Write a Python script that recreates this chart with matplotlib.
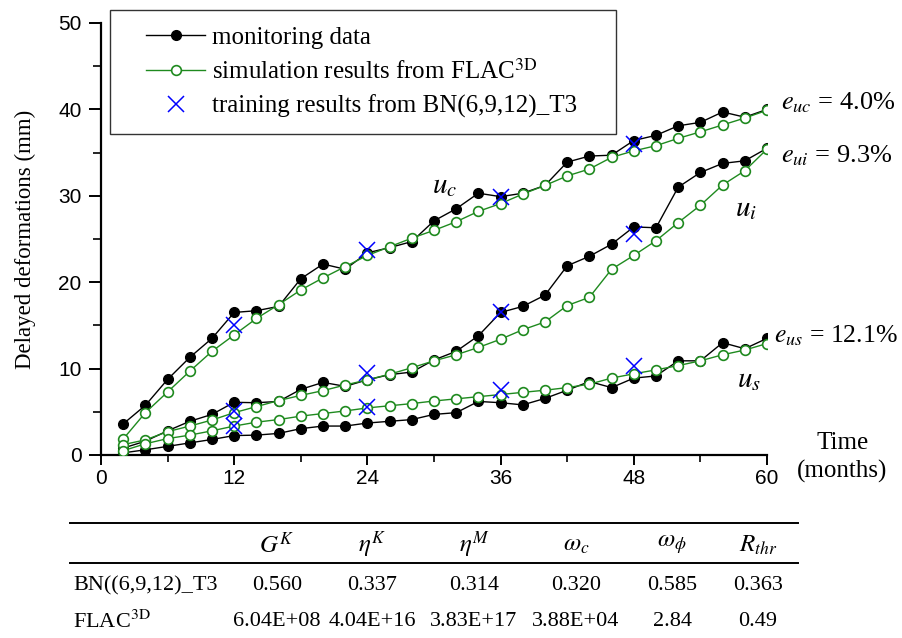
import numpy as np
import matplotlib
matplotlib.use("Agg")
import matplotlib.pyplot as plt
from matplotlib.lines import Line2D
from matplotlib.legend_handler import HandlerLine2D
from matplotlib.ticker import MultipleLocator

plt.rcParams["font.family"] = ["Liberation Serif", "DejaVu Serif"]
plt.rcParams["mathtext.fontset"] = "stix"

# months 2..60
months = [2, 4, 6, 8, 10, 12, 14, 16, 18, 20, 22, 24, 26, 28, 30,
          32, 34, 36, 38, 40, 42, 44, 46, 48, 50, 52, 54, 56, 58, 60]

uc_mon = [3.6, 5.75, 8.75, 11.3, 13.5, 16.5, 16.7, 17.2, 20.4, 22.1, 21.5, 23.4, 24.0, 24.7, 27.1,
          28.5, 30.3, 29.9, 30.3, 31.2, 33.9, 34.6, 34.7, 36.4, 37.0, 38.1, 38.5, 39.7, 39.1, 40.0]
uc_sim = [1.85, 4.9, 7.3, 9.7, 12.0, 13.9, 15.8, 17.4, 19.1, 20.5, 21.8, 23.1, 24.1, 25.1, 26.0,
          27.0, 28.2, 29.1, 30.2, 31.2, 32.3, 33.1, 34.45, 35.2, 35.8, 36.65, 37.4, 38.2, 39.0, 39.9]

ui_mon = [0.8, 1.6, 2.8, 3.9, 4.7, 6.1, 6.05, 6.2, 7.6, 8.4, 7.95, 8.7, 9.3, 9.6, 11.0,
          12.0, 13.8, 16.5, 17.2, 18.5, 21.9, 23.0, 24.4, 26.4, 26.3, 31.0, 32.7, 33.75, 34.05, 35.5]
ui_sim = [1.2, 1.75, 2.7, 3.35, 4.05, 4.9, 5.6, 6.3, 6.9, 7.45, 8.1, 8.7, 9.35, 10.1, 10.9,
          11.6, 12.45, 13.4, 14.5, 15.4, 17.3, 18.25, 21.5, 23.1, 24.8, 26.9, 28.9, 31.25, 32.9, 35.4]

us_mon = [0.25, 0.6, 1.0, 1.4, 1.8, 2.25, 2.3, 2.5, 3.05, 3.35, 3.35, 3.7, 3.9, 4.1, 4.7,
          4.9, 6.2, 6.05, 5.8, 6.55, 7.5, 8.5, 7.8, 8.9, 9.15, 10.9, 10.9, 13.0, 12.3, 13.5]
us_sim = [0.5, 1.3, 1.9, 2.3, 2.8, 3.35, 3.8, 4.1, 4.5, 4.8, 5.1, 5.45, 5.7, 5.95, 6.25,
          6.5, 6.75, 7.0, 7.25, 7.5, 7.8, 8.2, 8.9, 9.4, 9.85, 10.35, 10.9, 11.6, 12.15, 12.9]

train_months = [12, 24, 36, 48]
uc_train = [15.0, 23.7, 29.9, 36.0]
ui_train = [5.1, 9.5, 16.5, 25.6]
us_train = [3.3, 5.5, 7.5, 10.35]

err_labels = [r"$e_{uc}$ = 4.0%", r"$e_{ui}$ = 9.3%", r"$e_{us}$ = 12.1%"]

table_head = [r"$G^{K}$", r"$\eta^{K}$", r"$\eta^{M}$", r"$\omega_{c}$", r"$\omega_{\phi}$", r"$R_{thr}$"]
bn_row = ["0.560", "0.337", "0.314", "0.320", "0.585", "0.363"]
flac_row = ["6.04E+08", "4.04E+16", "3.83E+17", "3.88E+04", "2.84", "0.49"]

green = "#1f8a1f"


class ShiftedHandler(HandlerLine2D):
    """Line handle moved right inside its box, to leave a wider left margin."""
    shift = 0.8

    def create_artists(self, legend, orig_handle, xdescent, ydescent, width, height, fontsize, trans):
        return super().create_artists(legend, orig_handle, xdescent - self.shift * fontsize,
                                      ydescent, width, height, fontsize, trans)


fig = plt.figure(figsize=(9.02, 6.38), dpi=100)
ax = fig.add_axes([101 / 902, 1 - 455 / 638, 666 / 902, 432 / 638])

mon_kw = dict(color="black", lw=1.0, marker="o", ms=7, mfc="black", mec="black")
sim_kw = dict(color=green, lw=1.0, marker="o", ms=7, mfc="white", mec=green, mew=1.2)
tr_kw = dict(ls="none", marker="x", ms=11, mew=1.1, color="blue")

for mon, sim, tr in [(uc_mon, uc_sim, uc_train), (ui_mon, ui_sim, ui_train), (us_mon, us_sim, us_train)]:
    ax.plot(months, mon, **mon_kw, zorder=3)
    ax.plot(months, sim, **sim_kw, zorder=4)
    ax.plot(train_months, tr, **tr_kw, zorder=5)

ax.set_xlim(0, 60)
ax.set_ylim(0, 50)
ax.xaxis.set_major_locator(MultipleLocator(12))
ax.xaxis.set_minor_locator(MultipleLocator(6))
ax.yaxis.set_major_locator(MultipleLocator(10))
ax.yaxis.set_minor_locator(MultipleLocator(5))
for s in ["top", "right"]:
    ax.spines[s].set_visible(False)
for s in ["left", "bottom"]:
    ax.spines[s].set_linewidth(1.6)
ax.tick_params(axis="y", which="major", length=9, width=1.4, labelsize=15, pad=5)
ax.tick_params(axis="y", which="minor", length=6, width=1.2)
ax.tick_params(axis="x", which="major", length=7, width=1.4, labelsize=15, pad=3)
ax.tick_params(axis="x", which="minor", length=5, width=1.2)
for lab in ax.get_xticklabels() + ax.get_yticklabels():
    lab.set_family("Liberation Sans")
ax.set_ylabel("Delayed deformations (mm)", fontsize=16.5, labelpad=16)

# legend
handles = [
    Line2D([], [], **mon_kw),
    Line2D([], [], **sim_kw),
    Line2D([], [], **tr_kw),
]
labels = ["monitoring data", r"simulation results from FLAC$^{\rm 3D}$", "training results from BN(6,9,12)_T3"]
hmap = {h: ShiftedHandler() for h in handles}
leg = fig.legend(handles, labels, loc="upper left",
                 bbox_to_anchor=(110 / 902, 1 - 131 / 638, 506 / 902, 121 / 638),
                 mode="expand", handler_map=hmap,
                 fontsize=18, handlelength=2.35, numpoints=1, frameon=True, fancybox=False,
                 borderaxespad=0, borderpad=0.65, labelspacing=0.42, handletextpad=1.1)
leg.get_frame().set_edgecolor("black")
leg.get_frame().set_linewidth(1.0)

# annotations
ax.text(61.3, 40.8, err_labels[0], fontsize=19, va="center", ha="left", clip_on=False)
ax.text(61.3, 34.6, err_labels[1], fontsize=19, va="center", ha="left", clip_on=False)
ax.text(60.6, 13.8, err_labels[2], fontsize=18.5, va="center", ha="left", clip_on=False)
ax.text(29.8, 30.3, r"$u_{c}$", fontsize=21, ha="left", va="baseline")
ax.text(57.1, 27.6, r"$u_{i}$", fontsize=21, ha="left", va="baseline")
ax.text(57.3, 7.9, r"$u_{s}$", fontsize=21, ha="left", va="baseline")
ax.text(66.8, -0.3, "Time\n(months)", fontsize=18, ha="center", va="center",
        linespacing=1.3, clip_on=False)

# parameter table below the chart
W, H = 902.0, 638.0
fx = lambda px: px / W
fy = lambda py: 1 - py / H
fig.add_artist(Line2D([fx(70), fx(798)], [fy(523), fy(523)], color="black", lw=1.4))
fig.add_artist(Line2D([fx(70), fx(798)], [fy(563), fy(563)], color="black", lw=1.4))
col_x = [277, 372, 474, 576, 672, 758]
for cx, h, b, f in zip(col_x, table_head, bn_row, flac_row):
    fig.text(fx(cx), fy(545), h, fontsize=18, ha="center", va="center")
    fig.text(fx(cx), fy(586), b, fontsize=16, ha="center", va="center")
    fig.text(fx(cx), fy(622), f, fontsize=16, ha="center", va="center")
fig.text(fx(73), fy(586), "BN((6,9,12)_T3", fontsize=16, ha="left", va="center")
fig.text(fx(73), fy(622), r"FLAC$^{\rm 3D}$", fontsize=16, ha="left", va="center")

fig.savefig("out.png", dpi=100)
